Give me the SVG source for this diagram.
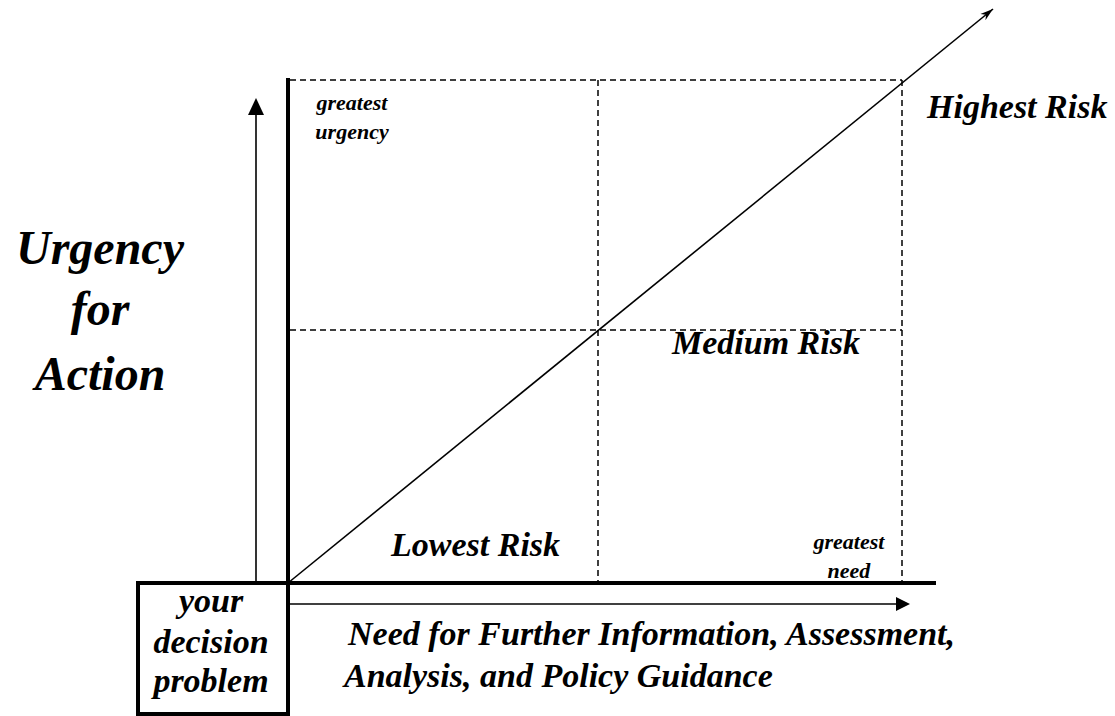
<svg xmlns="http://www.w3.org/2000/svg" width="1115" height="716" viewBox="0 0 1115 716">
<style>
text{font-family:"Liberation Serif","Times New Roman",serif;font-weight:bold;font-style:italic;fill:#000}
.big{font-size:48px}
.mid{font-size:34px}
.sm{font-size:22px}
.thick{stroke:#000;stroke-width:4;fill:none}
.thin{stroke:#000;stroke-width:1.6;fill:none}
.dash{stroke:#000;stroke-width:1.5;fill:none;stroke-dasharray:6,4}
</style>
<defs>
<marker id="barb" markerWidth="14" markerHeight="10" refX="13" refY="5" orient="auto" markerUnits="userSpaceOnUse" viewBox="0 0 14 10">
<path d="M0,1 L13,5 L0,9 L4,5 Z" fill="#000"/>
</marker>
</defs>
<rect width="1115" height="716" fill="#fff"/>
<g id="grid">
<line class="dash" x1="290" y1="80" x2="902" y2="80"/>
<line class="dash" x1="290" y1="330" x2="902" y2="330"/>
<line class="dash" x1="598" y1="80" x2="598" y2="583"/>
<line class="dash" x1="902" y1="80" x2="902" y2="583"/>
</g>
<g id="axes">
<line class="thick" x1="288" y1="78" x2="288" y2="716"/>
<line class="thick" x1="136" y1="583" x2="936" y2="583"/>
</g>
<g id="decision-box">
<rect class="thick" x="138" y="583" width="150" height="131"/>
<text class="mid" x="211" y="612" text-anchor="middle">your</text>
<text class="mid" x="211" y="653" text-anchor="middle">decision</text>
<text class="mid" x="211" y="692" text-anchor="middle">problem</text>
</g>
<g id="connectors">
<path class="thin" d="M256,583 L256,114"/>
<path d="M256,98 L264,115 L248,115 Z" fill="#000"/>
<path class="thin" d="M288,604 L896,604"/>
<path d="M896,597 L910,604 L896,611 Z" fill="#000"/>
<path class="thin" d="M288,583 L993,9" marker-end="url(#barb)"/>
</g>
<g id="y-label">
<text class="big" x="100" y="264" text-anchor="middle">Urgency</text>
<text class="big" x="100" y="325" text-anchor="middle">for</text>
<text class="big" x="100" y="390" text-anchor="middle">Action</text>
</g>
<g id="x-label">
<text class="mid" x="348" y="645">Need for Further Information, Assessment,</text>
<text class="mid" x="344" y="687">Analysis, and Policy Guidance</text>
</g>
<g id="greatest-urgency">
<text class="sm" x="352" y="110" text-anchor="middle">greatest</text>
<text class="sm" x="352" y="139" text-anchor="middle">urgency</text>
</g>
<g id="greatest-need">
<text class="sm" x="849" y="549" text-anchor="middle">greatest</text>
<text class="sm" x="849" y="578" text-anchor="middle">need</text>
</g>
<g id="highest-risk"><text class="mid" x="927" y="118">Highest Risk</text></g>
<g id="medium-risk"><text class="mid" x="672" y="354">Medium Risk</text></g>
<g id="lowest-risk"><text class="mid" x="391" y="556">Lowest Risk</text></g>
</svg>
